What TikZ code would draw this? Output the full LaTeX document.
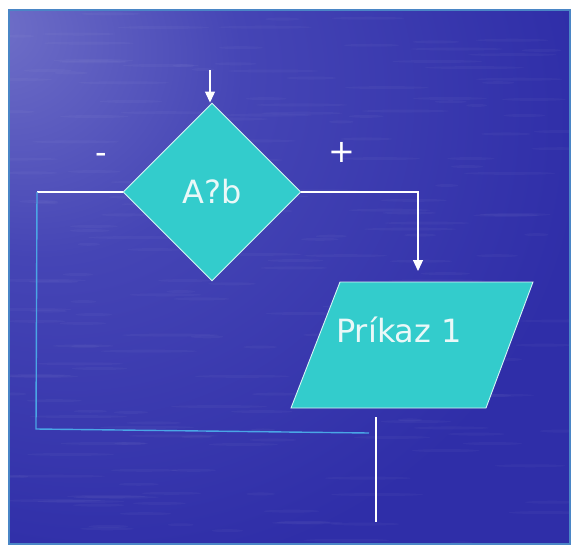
\documentclass[tikz,border=0pt]{standalone}
\usepackage{fontspec}
\setmainfont{DejaVu Sans}
\usetikzlibrary{shapes.geometric,arrows.meta}
\definecolor{bgblue}{HTML}{2F2EA8}
\definecolor{bgmid}{HTML}{4545B5}
\definecolor{bglight}{HTML}{7070C8}
\definecolor{frameblue}{HTML}{4A86C6}
\definecolor{turq}{HTML}{33CCCC}
\definecolor{linkblue}{HTML}{4AA6E6}
\definecolor{txt}{HTML}{EAF8F8}
\pgfdeclareradialshading{watershade}{\pgfpoint{-27bp}{24bp}}{%
  color(0bp)=(bglight); color(18bp)=(bgmid); color(42bp)=(bgblue); color(100bp)=(bgblue)}
\begin{document}
\begin{tikzpicture}[x=1pt,y=-1pt,
  flowline/.style={draw=white, line width=1.2pt},
  loopline/.style={draw=linkblue, line width=1.4pt},
  arrowtip/.style={-{Triangle[length=11pt,width=10pt]}},
  boxtext/.style={text=txt, font=\fontsize{32}{36}\selectfont},
  shapebox/.style={fill=turq, draw=white!80!turq, line width=0.9pt},
  decision/.style={diamond, shapebox, minimum width=178pt, minimum height=178pt, inner sep=0pt, boxtext},
  sign/.style={text=white, font=\fontsize{32}{36}\selectfont}
]
\useasboundingbox (0,0) rectangle (571,547);
\fill[white] (0,0) rectangle (571,547);
\begin{scope}
  \clip (9,10) rectangle (570,544);
  \shade[shading=watershade] (9,10) rectangle (570,544);
  \pgfmathsetseed{7}
  \foreach \i in {1,...,200}{
    \pgfmathsetmacro\xx{9+rnd*560}
    \pgfmathsetmacro\yy{10+rnd*534}
    \pgfmathsetmacro\ll{10+rnd*40}
    \fill[white, opacity=0.03] (\xx,\yy) ellipse ({\ll} and 1.5);
  }
\end{scope}
\draw[frameblue, line width=2pt] (9,10) rectangle (570,544);

% decision
\node[decision] (dec) at (212,192) {A?b};
\coordinate (in) at (210,70);
\draw[flowline, arrowtip] (in) -- (dec.north -| in);

% signs
\node[sign] (minus) at (101,158) {-};
\node[sign] (plus) at (342,152) {+};

% parallelogram
\coordinate (pa) at (340,282);
\coordinate (pb) at (533,282);
\coordinate (pc) at (486,408);
\coordinate (pd) at (291,408);
\filldraw[shapebox] (pa) -- (pb) -- (pc) -- (pd) -- cycle;
\node[boxtext, anchor=base west, inner sep=0pt] (p1) at (336,342) {Príkaz 1};

% plus branch
\coordinate (p1in) at (418,271);
\draw[flowline, arrowtip] (dec.east) -| (p1in);

% minus branch loop
\coordinate (lc1) at (37,192);
\coordinate (lc2) at (36,429);
\coordinate (lend) at (369,433);
\draw[flowline] (dec.west) -- (lc1);
\draw[loopline] (lc1) -- (lc2) -- (lend);

% exit line
\coordinate (out1) at (376,417);
\coordinate (out2) at (376,522);
\draw[flowline] (out1) -- (out2);
\end{tikzpicture}
\end{document}
